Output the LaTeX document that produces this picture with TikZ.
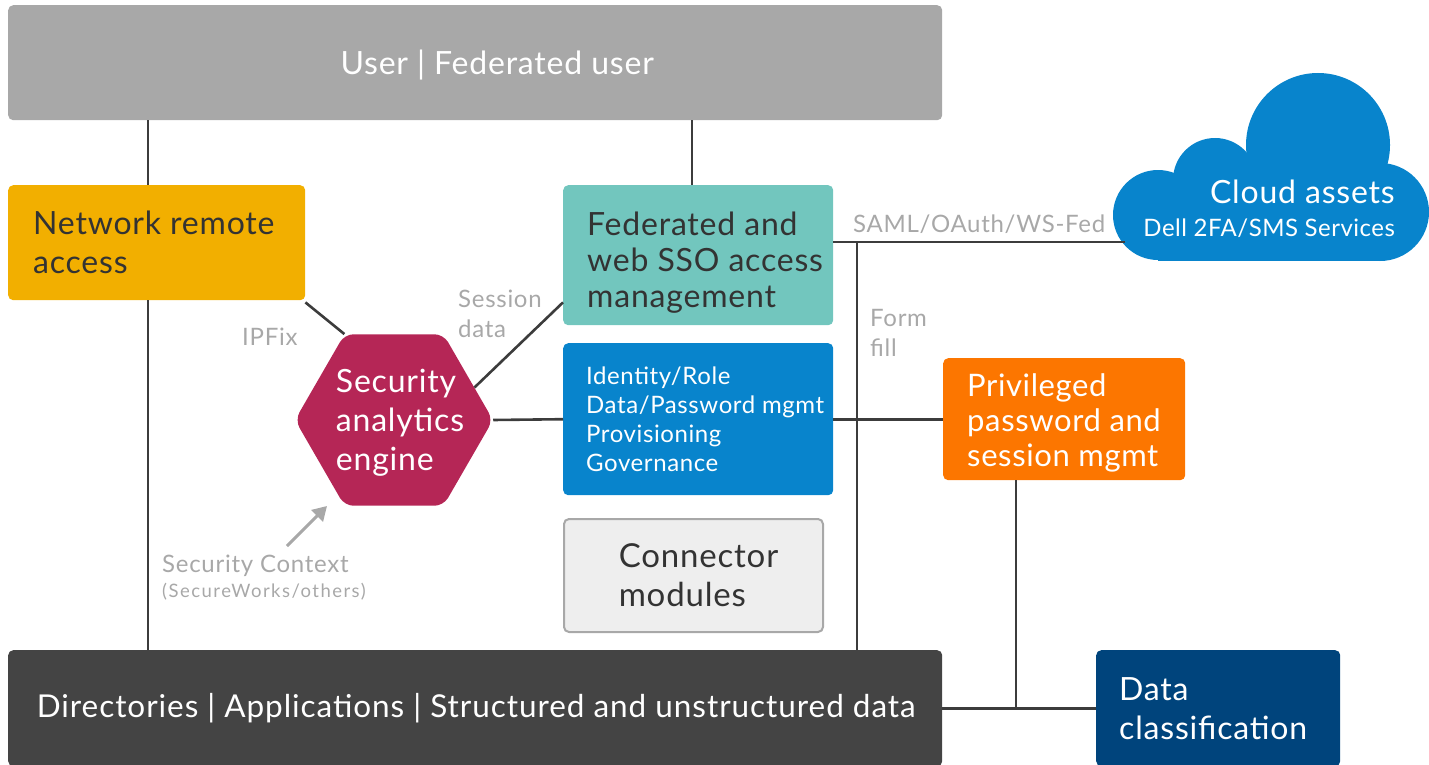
\documentclass[tikz,border=0pt]{standalone}
\usepackage{fontspec}
\setmainfont{Lato}
\usetikzlibrary{shapes.geometric,arrows.meta,calc}
\definecolor{usergray}{HTML}{A8A8A8}
\definecolor{netyellow}{HTML}{F2AF00}
\definecolor{fedteal}{HTML}{72C6BE}
\definecolor{dellblue}{HTML}{0884CC}
\definecolor{saemag}{HTML}{B52656}
\definecolor{privorange}{HTML}{FC7600}
\definecolor{navy}{HTML}{00447C}
\definecolor{darkbox}{HTML}{444444}
\definecolor{connfill}{HTML}{EEEEEE}
\definecolor{connborder}{HTML}{A8A8A8}
\definecolor{linec}{HTML}{3C3C3C}
\definecolor{lblc}{HTML}{A8A8A8}
\definecolor{darktext}{HTML}{333333}
\newcommand{\fsz}[3]{\fontsize{#1}{#2}\selectfont\addfontfeature{LetterSpace=#3}}
\begin{document}
\begin{tikzpicture}[x=1pt,y=-1pt,
  box/.style={rounded corners=5pt, inner sep=0pt, anchor=north west},
  bigf/.style={font=\fsz{32}{39}{2.5}},
  conn/.style={draw=linec, line width=2.6pt},
  lbl/.style={text=lblc, font=\fsz{24}{30}{3}, align=left, inner sep=0pt},
  btext/.style={inner sep=0pt, align=left, anchor=west}]
\useasboundingbox (0,0) rectangle (1429,765);

% cloud
\fill[dellblue] (1158,215) circle (45);
\fill[dellblue] (1215,180) circle (42);
\fill[dellblue] (1318,145) circle (72);
\fill[dellblue] (1380,212) circle (49);
\fill[dellblue] (1158,215) rectangle (1380,261);
\fill[dellblue] (1215,180) rectangle (1330,220);
\node[inner sep=0pt, align=right, anchor=east, text=white, font=\fsz{24}{33}{2}] (cloud) at (1395,209)
  {{\fsz{32}{33}{2.5}Cloud assets}\\Dell 2FA/SMS Services};
\coordinate (cl) at (1125,242);

% boxes
\node[box, fill=usergray, minimum width=934, minimum height=115] (user) at (8,5) {};
\node[text=white, bigf, inner sep=0pt] (usert) at ([xshift=22,yshift=-2]user.center) {User | Federated user};

\node[box, fill=netyellow, minimum width=297, minimum height=115] (net) at (8,185) {};
\node[btext, text=darktext, bigf] (nett) at ([xshift=25]net.west) {Network remote\\access};

\node[box, fill=fedteal, minimum width=270, minimum height=140] (fed) at (563,185) {};
\node[btext, text=darktext, font=\fsz{32}{36}{2.5}] (fedt) at ([xshift=24,yshift=-7]fed.west) {Federated and\\web SSO access\\management};

\node[box, fill=dellblue, minimum width=270, minimum height=152] (idm) at (563,343) {};
\node[btext, text=white, font=\fsz{24}{29}{2.5}] (idmt) at ([xshift=23]idm.west) {Identity/Role\\Data/Password mgmt\\Provisioning\\Governance};

\node[box, fill=connfill, draw=connborder, line width=2pt, minimum width=259, minimum height=113] (cm) at (563,518) {};
\node[inner sep=0pt, align=left, text=darktext, font=\fsz{33}{39}{2.5}] (cmt) at ([xshift=5]cm.center) {Connector\\modules};

\node[box, fill=privorange, minimum width=242, minimum height=122] (priv) at (943,358) {};
\node[btext, text=white, font=\fsz{31}{35}{2}] (privt) at ([xshift=24,yshift=-4]priv.west) {Privileged\\password and\\session mgmt};

\node[box, fill=darkbox, minimum width=934, minimum height=116] (dirs) at (8,650) {};
\node[text=white, font=\fsz{31.5}{39}{3}, inner sep=0pt] (dirst) at ([xshift=1]dirs.center) {Directories | Applications | Structured and unstructured data};

\node[box, fill=navy, minimum width=244, minimum height=116] (dc) at (1096,650) {};
\node[btext, text=white, bigf] (dct) at ([xshift=23]dc.west) {Data\\classification};

\node[regular polygon, regular polygon sides=6, minimum size=198, inner sep=0pt,
  fill=saemag, rounded corners=9pt] (sae) at (394,420) {};
\node[inner sep=0pt, align=left, text=white, bigf] (saet) at ([xshift=6,yshift=-3]sae.center) {Security\\analytics\\engine};

% connectors
\coordinate (vx) at (148,0);
\coordinate (vy) at (692,0);
\coordinate (vz) at (1016,0);
\coordinate (ff) at (857,242);
\draw[conn] (vx |- user.south) -- (vx |- net.north);
\draw[conn] (vx |- net.south) -- (vx |- dirs.north);
\draw[conn] (vy |- user.south) -- (vy |- fed.north);
\draw[conn] ([yshift=-2]net.south east) -- (sae.120);
\draw[conn] (sae.22) -- ($(fed.south west)+(0,-23)$);
\draw[conn] (sae.east) -- (idm.west);
\draw[conn] (idm.east) -- (priv.west);
\draw[conn] (fed.east |- cl) -- (cl);
\draw[conn] (ff) -- (ff |- dirs.north);
\draw[conn] (vz |- priv.south) -- (vz |- dc.west);
\draw[conn] (dirs.east |- dc.west) -- (dc.west);

% labels
\node[lbl, anchor=base west] (saml) at (853,232) {SAML/OAuth/WS-Fed};
\node[lbl, anchor=west] (form) at (870,333) {Form\\fill};
\node[lbl, anchor=west] (sess) at (458,314) {Session\\data};
\node[lbl, anchor=west] (ipfix) at (242,337) {IPFix};
\node[lbl, anchor=north west] (sc) at (162,555) {Security Context\\[-5pt]{\fsz{18.5}{20}{8}(SecureWorks/others)}};
\coordinate (at) at (287,546);
\coordinate (ah) at (327,506);
\draw[draw=lblc, fill=lblc, line width=3pt, -{Triangle[length=14pt,width=16pt]}] (at) -- (ah);
\end{tikzpicture}
\end{document}
